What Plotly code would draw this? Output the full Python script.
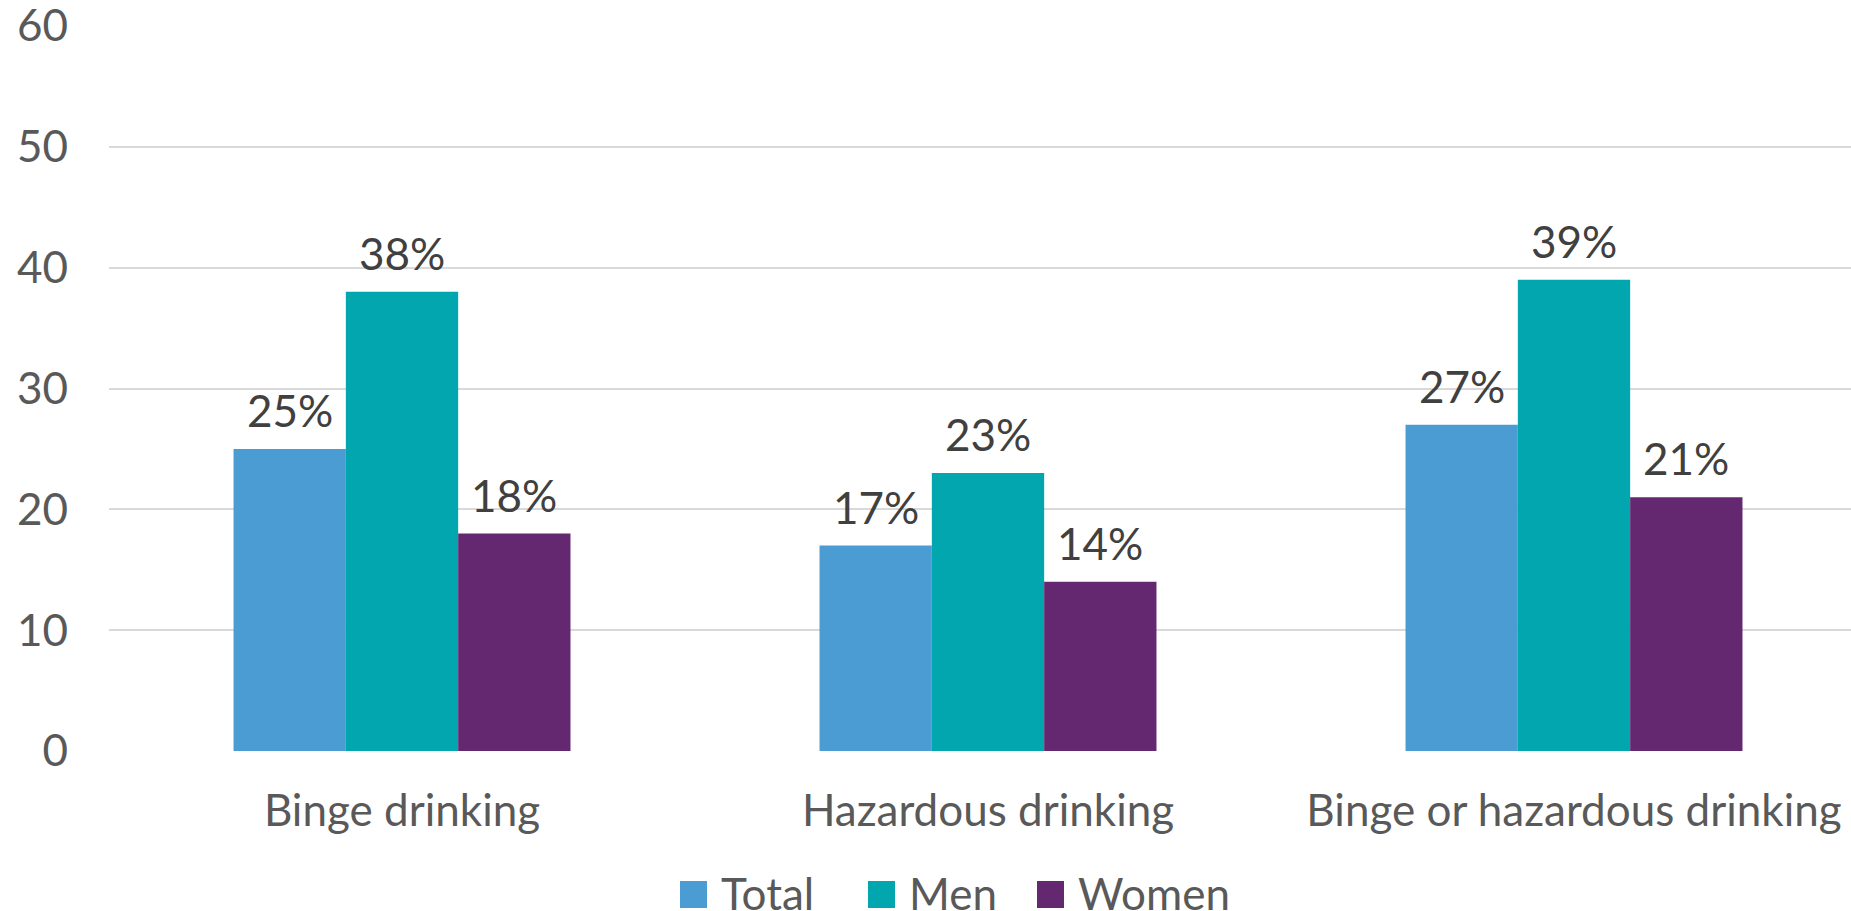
import plotly.graph_objects as go

categories = ["Binge drinking", "Hazardous drinking", "Binge or hazardous drinking"]
series_names = ["Total", "Men", "Women"]
total = [25, 17, 27]
men = [38, 23, 39]
women = [18, 14, 21]
colors = ["#4B9CD3", "#02A6AF", "#632870"]
y_ticks = [0, 10, 20, 30, 40, 50, 60]

FONT = "Lato"
FS = 44
series = [total, men, women]

W, H = 1851, 911
ml, mt, mb = 109, 26, 160
plot_w = W - ml
plot_h = H - mt - mb
cat_px = 586
x_right = -0.5 + plot_w / cat_px

fig = go.Figure()
xs = list(range(len(categories)))
for name, vals, c in zip(series_names, series, colors):
    fig.add_trace(go.Bar(x=xs, y=vals, name=name, marker=dict(color=c, line=dict(width=0)),
                         showlegend=False, hoverinfo="skip"))

bargap = 0.425
bw = (1 - bargap) / 3
for j, vals in enumerate(series):
    for i, v in enumerate(vals):
        fig.add_annotation(x=i + (j - 1) * bw, y=v, text=f"{v}%", showarrow=False,
                           yanchor="bottom", yshift=11,
                           font=dict(family=FONT, size=FS, color="#404040"))

# legend drawn below the plot (pixel layout converted to paper coords)
def px_x(p):
    return (p - ml) / plot_w

def px_y(p):
    return (H - mb - p) / plot_h

legend_sq_left = [680, 868, 1037]
sq = 27
sq_top, sq_bot = 881, 908
for name, c, left in zip(series_names, colors, legend_sq_left):
    fig.add_shape(type="rect", xref="paper", yref="paper",
                  x0=px_x(left), x1=px_x(left + sq), y0=px_y(sq_bot), y1=px_y(sq_top),
                  fillcolor=c, line=dict(width=0))
    fig.add_annotation(xref="paper", yref="paper", x=px_x(left + sq + 12), y=px_y(893),
                       xanchor="left", yanchor="middle", text=name, showarrow=False,
                       font=dict(family=FONT, size=FS, color="#595959"))

fig.update_layout(
    width=W, height=H,
    barmode="group", bargap=bargap, bargroupgap=0,
    plot_bgcolor="white", paper_bgcolor="white",
    margin=dict(l=ml, r=0, t=mt, b=mb, autoexpand=False),
    font=dict(family=FONT, size=FS, color="#595959"),
    showlegend=False,
    xaxis=dict(tickmode="array", tickvals=xs, ticktext=categories, range=[-0.5, x_right],
               showgrid=False, zeroline=False, showline=False, ticks="",
               ticklabelstandoff=30, tickfont=dict(size=FS, color="#595959")),
    yaxis=dict(range=[0, 60], tickvals=y_ticks, showgrid=True, gridcolor="#D9D9D9", gridwidth=2,
               zeroline=False, showline=False, ticks="", ticklabelstandoff=40,
               ticklabeloverflow="allow",
               tickfont=dict(size=FS, color="#595959")),
)

fig.write_html("out.html")
